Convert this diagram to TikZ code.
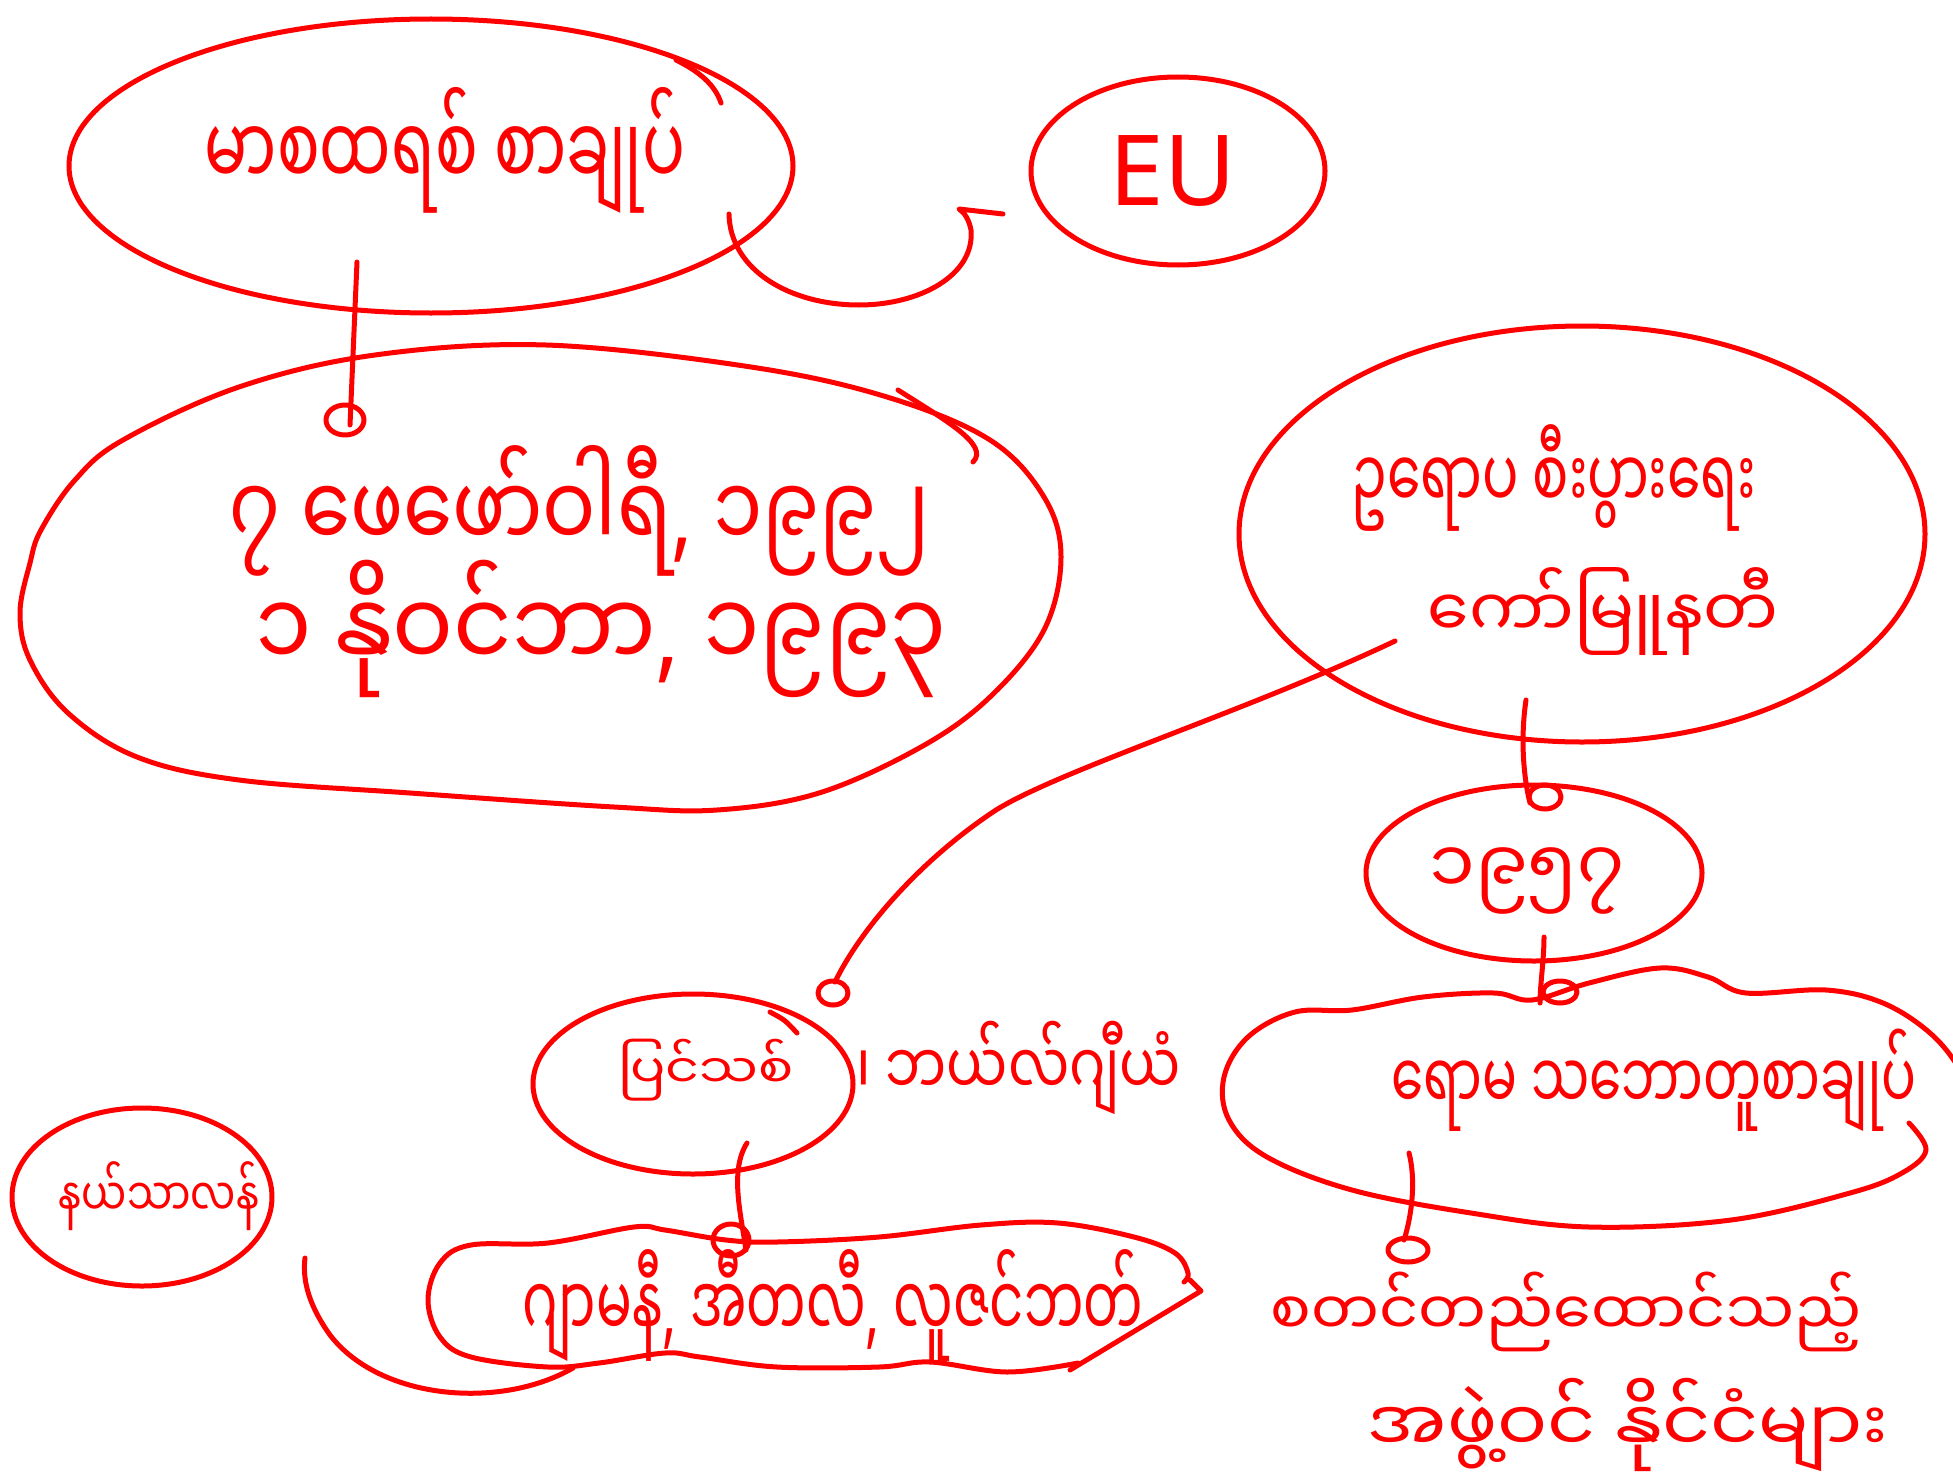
\documentclass[tikz,border=0pt]{standalone}
\usepackage{graphicx}
\usepackage{fontspec}
\setmainfont{Noto Sans}
\newfontfamily\my[Script=Myanmar]{Noto Sans Myanmar UI}
\usetikzlibrary{shapes.geometric,calc}
% width, text, vertical stretch
\newcommand\fw[3]{\resizebox{#1pt}{!}{\scalebox{1}[#3]{\my #2}}}
\newcommand\cma{{\normalfont,}}
\begin{document}
\begin{tikzpicture}[x=1pt,y=-1pt,
  ink/.style={draw=red,line width=5pt,line cap=round,line join=round},
  oval/.style={ellipse,ink,inner sep=0pt},
  lbl/.style={text=red,inner sep=0pt,anchor=center}]
\useasboundingbox (0,0) rectangle (1953,1477);
\clip (0,0) rectangle (1953,1477);

% ---- top: treaty
\node[oval,minimum width=724,minimum height=294] (top) at (431,166) {};
\node[lbl] (toptxt) at (445,150) {\fw{480}{မာစထရစ် စာချုပ်}{1.5}};
\draw[ink] (676,60) .. controls (700,72) and (715,85) .. (721,103);

% ---- EU
\node[oval,minimum width=294,minimum height=188] (eu) at (1178,171) {};
\node[lbl,font=\fontsize{98}{98}\selectfont] (eutxt) at (1173,171) {EU};

% ---- dates blob
\coordinate (datesc) at (540,578);
\node[lbl] (dates1) at (580,511) {\fw{700}{၇ ဖေဖော်ဝါရီ\cma{} ၁၉၉၂}{1.25}};
\node[lbl] (dates2) at (601,629) {\fw{690}{၁ နိုဝင်ဘာ\cma{} ၁၉၉၃}{1.15}};
\draw[ink] plot[smooth cycle, tension=0.6] coordinates {(546,345) (751,367) (887,397) (990,440) (1044,497) (1061,557) (1044,630) (990,697) (921,747) (819,793) (717,810) (614,807) (410,793) (239,780) (137,757) (68,713) (30,660) (20,613) (30,563) (41,530) (75,480) (123,440) (239,387) (375,355)};
\draw[ink] (898,390) .. controls (945,420) and (990,445) .. (973,462);

% ---- EEC
\node[oval,minimum width=686,minimum height=416] (eec) at (1582,534) {};
\node[lbl] (eec1) at (1554,478) {\fw{405}{ဥရောပ စီးပွားရေး}{1.5}};
\node[lbl] (eec2) at (1603,612) {\fw{350}{ကော်မြူနတီ}{1.0}};

% ---- 1957
\node[oval,minimum width=336,minimum height=176] (y57) at (1534,873) {};
\node[lbl] (y57t) at (1527,881) {\fw{195}{၁၉၅၇}{1.0}};

% ---- Rome
\node[lbl] (rome) at (1654,1080) {\fw{525}{ရောမ သဘောတူစာချုပ်}{1.5}};
\draw[ink] plot[smooth,tension=0.6] coordinates {(1909,1123) (1926,1150) (1902,1173) (1850,1193) (1731,1220) (1589,1227) (1471,1213) (1352,1190) (1267,1157) (1229,1120) (1224,1077) (1248,1037) (1295,1012) (1352,1010) (1423,997) (1494,993) (1532,1000) (1589,983) (1660,968) (1708,977) (1746,993) (1826,990) (1883,1003) (1930,1033) (1960,1070) (1975,1110)};

% ---- bottom text
\node[lbl] (bt1) at (1566,1312) {\fw{590}{စတင်တည်ထောင်သည့်}{1.0}};
\node[lbl] (bt2) at (1628,1425) {\fw{520}{အဖွဲ့ဝင် နိုင်ငံများ}{0.95}};

% ---- middle
\node[oval,minimum width=320,minimum height=180] (mid) at (693,1084) {};
\node[lbl] (midt) at (706,1070) {\fw{175}{ပြင်သစ်}{0.9}};
\node[lbl] (midr) at (1019,1068) {\fw{324}{၊ ဘယ်လ်ဂျီယံ}{1.3}};
\draw[ink] (770,1012) .. controls (785,1020) .. (797,1033);

% ---- bottom node
\node[lbl] (bn) at (833,1305) {\fw{620}{ဂျာမနီ\cma{} အီတလီ\cma{} လူဇင်ဘတ်}{1.6}};
\draw[ink] plot[smooth,tension=0.6] coordinates {(1078,1363) (1007,1372) (930,1362) (879,1367) (777,1367) (700,1357) (665,1353) (599,1363) (548,1367) (471,1357) (440,1337) (428,1300) (440,1263) (471,1245) (548,1243) (634,1227) (665,1230) (726,1240) (777,1242) (879,1237) (981,1225) (1058,1223) (1134,1237) (1175,1253) (1188,1273) (1184,1282)};
\draw[ink] (1190,1280) -- (1201,1291) -- (1070,1370);

% ---- small
\node[oval,minimum width=260,minimum height=178] (sm) at (142,1197) {};
\node[lbl] (smt) at (159,1196) {\fw{200}{နယ်သာလန်}{1.3}};
\coordinate (armend) at (305,1258);

% ---- connectors
\draw[ink] ($(top)+(-74,96)$) -- ($(datesc)+(-190,-153)$);
\draw[ink] ($(datesc)+(-195,-158)$) ellipse[x radius=19,y radius=15];

\draw[ink] ($(top)+(298,48)$) .. controls (730,270) and (790,305) .. (859,305)
  .. controls (920,305) and (975,275) .. (971,230)
  .. controls (969,220) and (965,213) .. (959,209) -- ($(eu)+(-175,43)$);

\draw[ink] ($(eec)+(-56,166)$) .. controls (1520,740) and (1524,780) .. ($(y57)+(-4,-70)$);
\draw[ink] ($(y57)+(11,-76)$) ellipse[x radius=16,y radius=12];

\draw[ink] ($(y57)+(10,64)$) .. controls (1544,960) and (1540,985) .. ($(rome)+(-114,-77)$);
\draw[ink] ($(rome)+(-94,-88)$) ellipse[x radius=17,y radius=11];

\draw[ink] ($(rome)+(-245,73)$) .. controls (1416,1180) and (1412,1215) .. ($(bt1)+(-162,-72)$);
\draw[ink] ($(bt1)+(-158,-62)$) ellipse[x radius=20,y radius=12];

\draw[ink] ($(eec)+(-187,107)$) .. controls (1250,710) and (1060,770) .. (996,810)
  .. controls (920,860) and (860,930) .. ($(mid)+(142,-102)$);
\draw[ink] ($(mid)+(140,-91)$) ellipse[x radius=15,y radius=12];

\draw[ink] ($(mid)+(54,59)$) .. controls (730,1170) and (740,1210) .. ($(bn)+(-87,-55)$);
\draw[ink] ($(bn)+(-102,-65)$) ellipse[x radius=18,y radius=16];

\draw[ink] ($(bn)+(-260,63)$) .. controls (500,1410) and (380,1400) .. (330,1335)
  .. controls (305,1300) and (303,1275) .. (armend);
\end{tikzpicture}
\end{document}
